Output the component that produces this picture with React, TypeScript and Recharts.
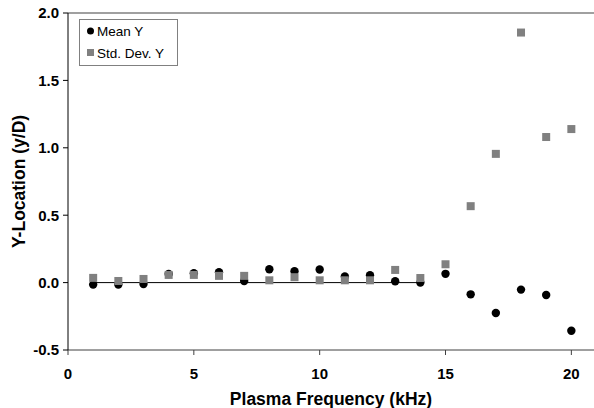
import { ReferenceLine, Scatter, ScatterChart, XAxis, YAxis } from "recharts"

document.body.style.margin = "0"

const frequencies = [1, 2, 3, 4, 5, 6, 7, 8, 9, 10, 11, 12, 13, 14, 15, 16, 17, 18, 19, 20]
const meanY = [
  -0.015, -0.015, -0.01, 0.064, 0.069, 0.077, 0.012, 0.099, 0.084, 0.097,
  0.045, 0.054, 0.01, 0.0, 0.065, -0.087, -0.225, -0.052, -0.092, -0.357,
]
const stdDevY = [
  0.035, 0.012, 0.027, 0.057, 0.057, 0.05, 0.05, 0.017, 0.04, 0.017,
  0.017, 0.017, 0.094, 0.034, 0.136, 0.567, 0.955, 1.855, 1.08, 1.139,
]
const xTicks = [0, 5, 10, 15, 20]
const yTicks = [-0.5, 0, 0.5, 1, 1.5, 2]

const meanData = frequencies.map((x, i) => ({ x, y: meanY[i] }))
const stdData = frequencies.map((x, i) => ({ x, y: stdDevY[i] }))

const font = "Arial, 'Liberation Sans', sans-serif"
const tickStyle = { fontFamily: font, fontSize: 15, fontWeight: 700, fill: "#000" }
const titleStyle = { fontFamily: font, fontSize: 17.5, fontWeight: 700, fill: "#000" }

function Dot(props: any) {
  return <circle cx={props.cx} cy={props.cy} r={4.2} fill="#000" />
}

function Box(props: any) {
  return <rect x={props.cx - 4} y={props.cy - 4} width={8} height={8} fill="#808080" />
}

function LegendBox() {
  return (
    <div
      style={{
        position: "absolute",
        left: 79,
        top: 19,
        border: "1px solid #808080",
        background: "#fff",
        width: 91,
        height: 44,
        padding: "1px 0 0 6px",
        fontFamily: font,
        fontSize: 13.5,
        color: "#000",
        lineHeight: "22px",
      }}
    >
      <div>
        <svg width={9} height={10} style={{ marginRight: 2 }}>
          <circle cx={4.5} cy={5} r={3.5} fill="#000" />
        </svg>
        Mean Y
      </div>
      <div>
        <svg width={9} height={10} style={{ marginRight: 2 }}>
          <rect x={1} y={1} width={7} height={7} fill="#808080" />
        </svg>
        Std. Dev. Y
      </div>
    </div>
  )
}

export default function App() {
  return (
    <div style={{ position: "relative", width: 594, height: 408 }}>
      <ScatterChart width={594} height={408} margin={{ top: 13, right: 0, left: 18, bottom: 0 }}>
        <XAxis
          type="number"
          dataKey="x"
          domain={[0, 20.9]}
          ticks={xTicks}
          tick={tickStyle}
          tickSize={5}
          tickMargin={13}
          stroke="#404040"
          height={58}
          label={{
            value: "Plasma Frequency (kHz)",
            position: "insideBottom",
            offset: 3,
            style: titleStyle,
          }}
        />
        <YAxis
          type="number"
          dataKey="y"
          domain={[-0.5, 2]}
          ticks={yTicks}
          tickFormatter={(v) => Number(v).toFixed(1)}
          tick={tickStyle}
          tickSize={5}
          tickMargin={4}
          stroke="#000"
          width={50}
          label={{
            value: "Y-Location (y/D)",
            angle: -90,
            position: "insideLeft",
            offset: 1,
            style: { ...titleStyle, textAnchor: "middle" },
          }}
        />
        <ReferenceLine y={2} stroke="#808080" strokeWidth={1.5} />
        <ReferenceLine segment={[{ x: 1, y: 0 }, { x: 14, y: 0 }]} stroke="#000" strokeWidth={1} />
        <Scatter name="Mean Y" data={meanData} shape={<Dot />} isAnimationActive={false} />
        <Scatter name="Std. Dev. Y" data={stdData} shape={<Box />} isAnimationActive={false} />
      </ScatterChart>
      <LegendBox />
    </div>
  )
}
